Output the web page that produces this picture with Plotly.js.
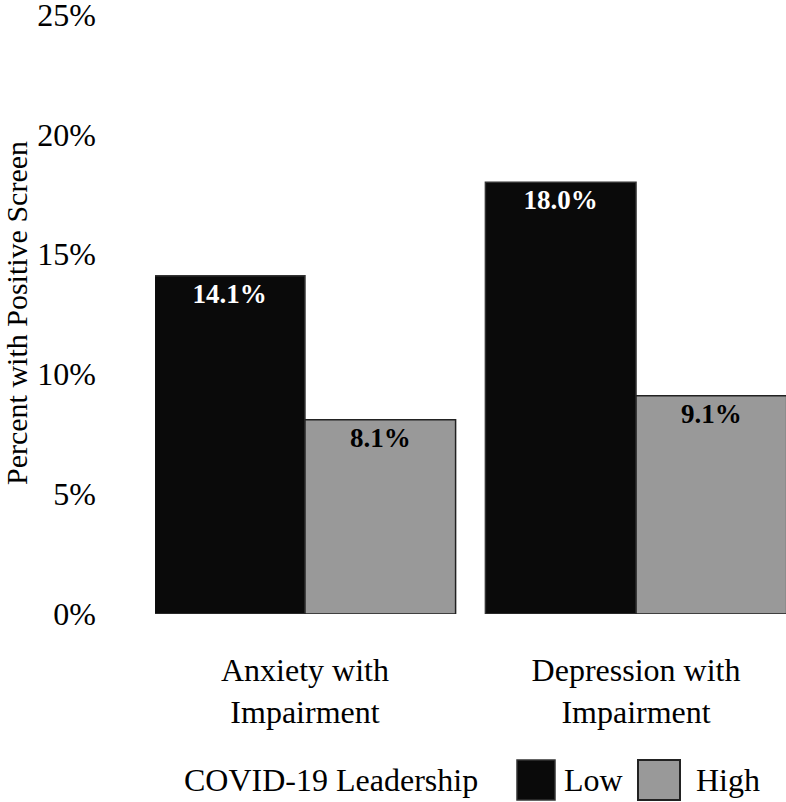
<!DOCTYPE html>
<html>
<head>
<meta charset="utf-8">
<script src="https://cdn.plot.ly/plotly-3.0.1.min.js"></script>
<style>html,body{margin:0;padding:0;background:#fff;}#chart{width:786px;height:802px;}</style>
</head>
<body>
<div id="chart"></div>
<script>
const categories = ["Anxiety with<br>Impairment", "Depression with<br>Impairment"];
const lowValues = [14.1, 18.0];
const highValues = [8.1, 9.1];
const seriesNames = ["Low", "High"];
const legendTitle = "COVID-19 Leadership";
const yTickVals = [0, 5, 10, 15, 20, 25];
const yTickText = ["0%", "5%", "10%", "15%", "20%", "25%"];

const FONT = "Liberation Serif";
const LOW_COLOR = "#0a0a0a";
const HIGH_COLOR = "#999999";

const traces = [
  {
    type: "bar", name: seriesNames[0], x: categories, y: lowValues,
    marker: {color: LOW_COLOR, line: {color: "#333333", width: 1.5}},
    texttemplate: "<b>%{y:.1f}%</b>", textposition: "inside", insidetextanchor: "end",
    textangle: 0, constraintext: "none",
    textfont: {family: FONT, size: 27, color: "#ffffff"},
    showlegend: false, hoverinfo: "skip"
  },
  {
    type: "bar", name: seriesNames[1], x: categories, y: highValues,
    marker: {color: HIGH_COLOR, line: {color: "#222222", width: 1.5}},
    texttemplate: "<b>%{y:.1f}%</b>", textposition: "inside", insidetextanchor: "end",
    textangle: 0, constraintext: "none",
    textfont: {family: FONT, size: 27, color: "#000000"},
    showlegend: false, hoverinfo: "skip"
  }
];

const YTOP = 25.1;
const TOPPX = 614 - 24 * YTOP;
const px = v => (v - 155) / 631;
const py = v => (614 - v) / (614 - TOPPX);

const layout = {
  width: 786, height: 802,
  margin: {l: 155, r: 0, t: TOPPX, b: 188},
  paper_bgcolor: "#ffffff", plot_bgcolor: "#ffffff",
  font: {family: FONT, color: "#000000", size: 32},
  barmode: "group", bargap: 0.09, bargroupgap: 0,
  xaxis: {
    range: [-0.453, 1.453], showgrid: false, zeroline: false, showline: false,
    ticks: "", ticklabelstandoff: 34,
    tickfont: {family: FONT, size: 32, color: "#000000"}
  },
  yaxis: {
    range: [0, YTOP], tickvals: yTickVals, ticktext: yTickText,
    showgrid: false, zeroline: false, showline: false, ticks: "",
    ticklabelstandoff: 58, ticklabeloverflow: "allow",
    tickfont: {family: FONT, size: 32, color: "#000000"},
    title: {text: "Percent with Positive Screen", font: {family: FONT, size: 30, color: "#000000"}, standoff: 2}
  },
  shapes: [
    {type: "rect", xref: "paper", yref: "paper", x0: px(517), x1: px(555), y0: py(800), y1: py(760),
     fillcolor: LOW_COLOR, line: {color: "#333333", width: 1.5}},
    {type: "rect", xref: "paper", yref: "paper", x0: px(638), x1: px(680), y0: py(800), y1: py(760),
     fillcolor: HIGH_COLOR, line: {color: "#222222", width: 2}}
  ],
  annotations: [
    {xref: "paper", yref: "paper", x: px(480), y: py(780), xanchor: "right", yanchor: "middle",
     text: legendTitle, showarrow: false, font: {family: FONT, size: 32, color: "#000000"}},
    {xref: "paper", yref: "paper", x: px(562), y: py(780), xanchor: "left", yanchor: "middle",
     text: seriesNames[0], showarrow: false, font: {family: FONT, size: 32, color: "#000000"}},
    {xref: "paper", yref: "paper", x: px(694), y: py(780), xanchor: "left", yanchor: "middle",
     text: seriesNames[1], showarrow: false, font: {family: FONT, size: 32, color: "#000000"}}
  ]
};

Plotly.newPlot("chart", traces, layout, {staticPlot: true, displayModeBar: false});
</script>
</body>
</html>
